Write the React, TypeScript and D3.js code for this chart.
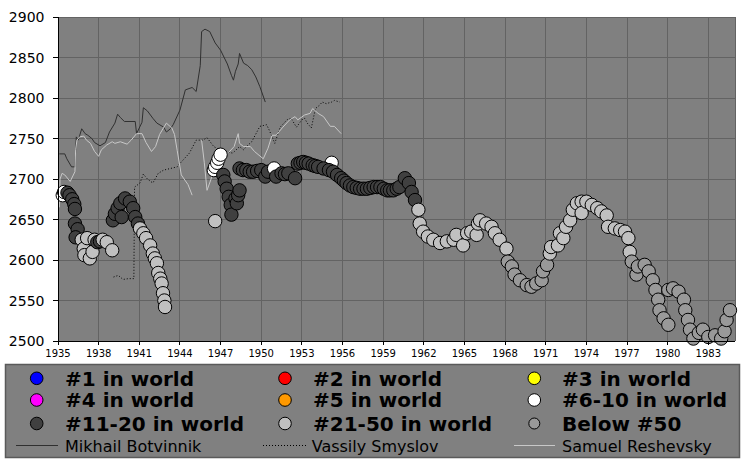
import React, { useEffect } from "react";
import * as d3 from "d3";

// ---------- DATA ----------
const xTickYears = [1935, 1938, 1941, 1944, 1947, 1950, 1953, 1956, 1959, 1962, 1965, 1968, 1971, 1974, 1977, 1980, 1983];
const yTickValues = [2500, 2550, 2600, 2650, 2700, 2750, 2800, 2850, 2900];

const rankKeys = ["1", "2", "3", "4", "5", "6-10", "11-20", "21-50", "below50"];
const rankLabels = ["#1 in world", "#2 in world", "#3 in world", "#4 in world", "#5 in world", "#6-10 in world", "#11-20 in world", "#21-50 in world", "Below #50"];
const rankColors = ["#0000ff", "#ff0000", "#ffff00", "#ff00ff", "#ff9900", "#ffffff", "#404040", "#c0c0c0", "#999999"];

const playerNames = ["Mikhail Botvinnik", "Vassily Smyslov", "Samuel Reshevsky"];
const playerColors = ["#303030", "#000000", "#c8c8c8"];
const playerDash = ["none", "1,2", "none"];

// [year, rating]
const botvinnik: [number, number][] = [
  [1935.1, 2731], [1935.5, 2731], [1935.65, 2725], [1936.0, 2715], [1936.25, 2715], [1936.35, 2752], [1936.5, 2748],
  [1936.75, 2762], [1937.0, 2756], [1937.2, 2754], [1937.5, 2750], [1937.7, 2745], [1938.1, 2741], [1938.5, 2745],
  [1938.8, 2758], [1939.2, 2769], [1939.4, 2780], [1939.6, 2776], [1939.9, 2771], [1940.7, 2771], [1940.8, 2756],
  [1941.2, 2770], [1941.3, 2788], [1941.6, 2784], [1942.0, 2775], [1942.3, 2769], [1942.8, 2764], [1943.0, 2758],
  [1943.3, 2762], [1943.5, 2767], [1944.0, 2785], [1944.4, 2810], [1944.9, 2813], [1945.2, 2808], [1945.5, 2840],
  [1945.6, 2882], [1945.85, 2885], [1946.2, 2882], [1946.6, 2868], [1947.0, 2859], [1947.5, 2842], [1947.8, 2828],
  [1947.95, 2822], [1948.1, 2833], [1948.3, 2842], [1948.4, 2855], [1948.7, 2843], [1949.0, 2840], [1949.3, 2835],
  [1949.6, 2826], [1949.9, 2814], [1950.3, 2795],
];

const smyslov: [number, number][] = [
  [1939.1, 2579], [1939.45, 2581], [1939.8, 2576], [1940.2, 2577], [1940.6, 2577], [1940.65, 2690], [1941.05, 2695],
  [1941.3, 2706], [1941.6, 2700], [1942.0, 2695], [1942.4, 2707], [1942.8, 2711], [1943.3, 2713], [1943.8, 2715],
  [1944.1, 2721], [1944.7, 2732], [1945.2, 2748], [1945.7, 2748], [1946.0, 2751], [1946.5, 2740], [1947.2, 2734],
  [1947.9, 2732], [1948.4, 2740], [1948.7, 2736], [1948.9, 2740], [1949.3, 2746], [1949.9, 2765], [1950.4, 2767],
  [1950.6, 2760], [1951.0, 2744], [1951.4, 2764], [1951.9, 2773], [1952.2, 2775], [1952.6, 2764], [1953.0, 2773],
  [1953.2, 2775], [1953.4, 2769], [1953.7, 2763], [1954.0, 2787], [1954.3, 2791], [1954.5, 2795], [1954.8, 2793],
  [1955.2, 2795], [1955.4, 2797], [1955.8, 2795],
];

// null marks a gap in activity
const reshevsky: ([number, number] | null)[] = [
  [1935.1, 2665], [1935.15, 2700], [1935.3, 2707], [1935.5, 2705], [1935.9, 2697], [1936.25, 2709], [1936.3, 2736],
  [1936.4, 2748], [1936.6, 2752], [1936.9, 2753], [1937.1, 2748], [1937.4, 2744], [1937.7, 2734], [1938.0, 2728],
  [1938.2, 2736], [1938.6, 2742], [1939.0, 2746], [1939.2, 2744], [1939.6, 2746], [1940.1, 2743], [1940.4, 2748],
  [1940.8, 2756], [1941.2, 2756], [1941.5, 2745], [1941.9, 2734], [1942.2, 2740], [1942.5, 2755], [1943.0, 2769],
  [1943.4, 2763], [1943.6, 2755], [1943.8, 2735], [1944.1, 2705], [1944.6, 2693], [1944.9, 2680],
  null,
  [1945.6, 2748], [1945.8, 2720], [1946.0, 2686], [1946.3, 2700], [1946.5, 2715], [1946.8, 2722], [1947.2, 2728],
  [1947.6, 2733], [1948.0, 2740], [1948.3, 2756], [1948.4, 2744], [1948.7, 2740], [1949.2, 2740], [1949.5, 2734],
  [1950.15, 2725], [1950.5, 2738], [1950.8, 2754], [1951.1, 2754], [1951.6, 2764], [1952.1, 2773], [1952.5, 2777],
  [1952.7, 2773], [1953.2, 2779], [1953.6, 2781], [1953.8, 2787], [1954.2, 2781], [1954.6, 2777], [1955.1, 2765],
  [1955.4, 2765], [1955.9, 2756],
];

// [year, rating, rank group]
const history: [number, number, string][] = [
  [1935.35, 2680, "6-10"], [1935.45, 2684, "6-10"],
  [1935.7, 2683, "11-20"], [1935.85, 2680, "11-20"], [1936.05, 2675, "11-20"], [1936.2, 2669, "11-20"], [1936.25, 2663, "11-20"],
  [1936.25, 2645, "11-20"], [1936.45, 2638, "11-20"], [1936.3, 2628, "11-20"],
  [1936.75, 2625, "21-50"], [1936.9, 2614, "21-50"], [1936.95, 2606, "21-50"], [1937.35, 2602, "21-50"], [1937.55, 2610, "21-50"],
  [1937.15, 2627, "21-50"], [1937.7, 2625, "21-50"],
  [1937.9, 2622, "11-20"], [1938.1, 2623, "11-20"],
  [1938.3, 2625, "21-50"], [1938.6, 2622, "21-50"], [1939.0, 2612, "21-50"],
  [1939.05, 2649, "11-20"], [1939.2, 2657, "11-20"], [1939.4, 2664, "11-20"], [1939.6, 2670, "11-20"], [1939.95, 2676, "11-20"],
  [1940.3, 2672, "11-20"], [1940.55, 2664, "11-20"], [1939.7, 2653, "11-20"], [1940.7, 2653, "11-20"], [1940.9, 2645, "11-20"],
  [1941.05, 2639, "21-50"], [1941.3, 2633, "21-50"], [1941.5, 2627, "21-50"], [1941.8, 2618, "21-50"], [1942.0, 2608, "21-50"],
  [1942.15, 2602, "21-50"], [1942.3, 2596, "21-50"], [1942.4, 2584, "21-50"], [1942.55, 2577, "21-50"], [1942.65, 2571, "21-50"],
  [1942.75, 2559, "21-50"], [1942.85, 2550, "21-50"], [1942.9, 2542, "21-50"],
  [1946.6, 2648, "21-50"],
  [1946.5, 2711, "6-10"], [1946.6, 2715, "6-10"], [1946.75, 2720, "6-10"], [1946.85, 2725, "6-10"], [1947.0, 2730, "6-10"],
  [1947.2, 2705, "11-20"], [1947.3, 2697, "11-20"], [1947.45, 2688, "11-20"], [1947.6, 2678, "11-20"], [1947.75, 2668, "11-20"],
  [1947.8, 2656, "11-20"], [1948.1, 2676, "11-20"], [1948.2, 2670, "11-20"], [1948.3, 2680, "11-20"], [1948.4, 2686, "11-20"],
  [1948.4, 2713, "11-20"], [1948.65, 2711, "11-20"], [1948.9, 2711, "11-20"], [1949.15, 2709, "11-20"], [1949.4, 2709, "11-20"],
  [1949.7, 2710, "11-20"], [1950.0, 2711, "11-20"], [1950.3, 2703, "11-20"], [1950.5, 2709, "11-20"],
  [1950.95, 2713, "6-10"],
  [1951.1, 2703, "11-20"], [1951.5, 2707, "11-20"], [1951.75, 2706, "11-20"], [1952.0, 2707, "11-20"], [1952.5, 2701, "11-20"],
  [1952.7, 2719, "11-20"], [1952.9, 2720, "11-20"], [1953.1, 2721, "11-20"], [1953.3, 2720, "11-20"], [1953.5, 2719, "11-20"],
  [1953.8, 2717, "11-20"],
  [1955.2, 2720, "6-10"],
  [1954.0, 2716, "11-20"], [1954.2, 2715, "11-20"], [1954.6, 2713, "11-20"], [1955.0, 2711, "11-20"], [1955.3, 2709, "11-20"],
  [1955.6, 2705, "11-20"], [1955.9, 2701, "11-20"], [1956.1, 2698, "11-20"], [1956.3, 2695, "11-20"], [1956.55, 2692, "11-20"],
  [1956.8, 2690, "11-20"], [1957.05, 2689, "11-20"], [1957.3, 2688, "11-20"], [1957.55, 2688, "11-20"], [1957.8, 2688, "11-20"],
  [1958.05, 2689, "11-20"], [1958.3, 2690, "11-20"], [1958.55, 2690, "11-20"], [1958.8, 2690, "11-20"], [1959.05, 2688, "11-20"],
  [1959.3, 2686, "11-20"], [1959.5, 2686, "11-20"], [1959.75, 2686, "11-20"], [1960.0, 2688, "11-20"], [1960.2, 2690, "11-20"],
  [1960.6, 2701, "11-20"], [1960.9, 2695, "11-20"], [1961.1, 2684, "11-20"], [1961.35, 2674, "11-20"],
  [1961.6, 2662, "21-50"], [1961.7, 2645, "21-50"], [1961.95, 2635, "21-50"], [1962.3, 2629, "21-50"], [1962.7, 2625, "21-50"],
  [1963.2, 2621, "21-50"], [1963.7, 2623, "21-50"], [1964.2, 2625, "21-50"], [1964.4, 2631, "21-50"], [1964.9, 2618, "21-50"],
  [1965.2, 2633, "21-50"], [1965.5, 2635, "21-50"], [1965.9, 2631, "21-50"], [1966.0, 2645, "21-50"], [1966.15, 2649, "21-50"],
  [1966.6, 2645, "21-50"], [1967.0, 2641, "21-50"], [1967.25, 2633, "21-50"], [1967.6, 2625, "21-50"], [1968.1, 2614, "21-50"],
  [1968.2, 2598, "below50"], [1968.5, 2592, "below50"], [1968.7, 2582, "below50"], [1969.1, 2575, "below50"], [1969.6, 2569, "below50"],
  [1969.95, 2567, "below50"], [1970.3, 2571, "below50"], [1970.7, 2575, "below50"], [1970.8, 2586, "below50"], [1971.1, 2594, "below50"],
  [1971.3, 2608, "21-50"], [1971.4, 2616, "21-50"], [1971.9, 2618, "21-50"], [1972.05, 2633, "21-50"], [1972.3, 2627, "21-50"],
  [1972.5, 2641, "21-50"], [1972.8, 2649, "21-50"], [1973.0, 2662, "21-50"], [1973.3, 2670, "21-50"], [1973.65, 2672, "21-50"],
  [1973.65, 2658, "21-50"], [1974.0, 2672, "21-50"], [1974.4, 2668, "21-50"], [1974.8, 2664, "21-50"], [1975.1, 2660, "21-50"],
  [1975.5, 2655, "21-50"], [1975.6, 2641, "21-50"], [1976.1, 2639, "21-50"], [1976.5, 2637, "21-50"], [1976.85, 2635, "21-50"],
  [1977.1, 2627, "21-50"], [1977.2, 2610, "21-50"],
  [1977.35, 2598, "below50"], [1977.7, 2582, "below50"], [1977.8, 2592, "below50"], [1978.3, 2594, "below50"], [1978.6, 2586, "below50"],
  [1978.9, 2575, "below50"], [1979.1, 2563, "below50"], [1979.3, 2551, "below50"], [1979.4, 2538, "below50"], [1979.7, 2528, "below50"],
  [1980.05, 2520, "below50"], [1980.05, 2563, "below50"], [1980.4, 2565, "below50"], [1980.8, 2561, "below50"], [1981.2, 2551, "below50"],
  [1981.3, 2538, "below50"], [1981.5, 2526, "below50"], [1981.65, 2514, "below50"], [1981.9, 2503, "below50"], [1982.3, 2510, "below50"],
  [1982.6, 2514, "below50"], [1983.0, 2505, "below50"], [1983.5, 2507, "below50"], [1983.95, 2503, "below50"], [1984.2, 2512, "below50"],
  [1984.35, 2526, "below50"], [1984.6, 2538, "below50"],
];

// ---------- CHART ----------
const W = 756;
const H = 464;
const plot = { left: 58, right: 735.4, top: 17, bottom: 341 };

export default function App() {
  useEffect(() => {
    document.body.style.margin = "0";
  }, []);

  const x = d3.scaleLinear().domain([1935, 1985]).range([plot.left, plot.right]);
  const y = d3.scaleLinear().domain([2500, 2900]).range([plot.bottom, plot.top]);

  const line = d3
    .line<[number, number] | null>()
    .defined((d) => d !== null)
    .x((d) => x((d as [number, number])[0]))
    .y((d) => y((d as [number, number])[1]));

  const series = [botvinnik, smyslov, reshevsky];
  const colorOf = (k: string) => rankColors[rankKeys.indexOf(k)];

  const gridColor = "#636363";
  const legendCols = [36.7, 285, 534.3];
  const legendTextX = [65, 313, 562];
  const legendRowY = [378.3, 400, 423.5];
  const lineRowY = 445;
  const lineSample = [[16, 58], [263, 307], [514, 555]];

  return (
    <svg width={W} height={H} style={{ position: "absolute", left: 0, top: 0, display: "block", background: "#fff" }}>
      {/* plot background */}
      <rect x={plot.left} y={plot.top} width={plot.right - plot.left} height={plot.bottom - plot.top} fill="#808080" />
      {/* grid */}
      <g shapeRendering="crispEdges">
        {xTickYears.map((t) => (
          <line key={"gx" + t} x1={x(t)} x2={x(t)} y1={plot.top} y2={plot.bottom} stroke={gridColor} strokeWidth={1} />
        ))}
        {yTickValues.map((t) => (
          <line key={"gy" + t} x1={plot.left} x2={plot.right} y1={y(t)} y2={y(t)} stroke={gridColor} strokeWidth={1} />
        ))}
        <line x1={plot.right} x2={plot.right} y1={plot.top} y2={plot.bottom} stroke={gridColor} />
        <line x1={plot.left} x2={plot.right} y1={plot.top} y2={plot.top} stroke={gridColor} />
      </g>

      {/* player lines */}
      {series.map((s, i) => (
        <path
          key={"ln" + i}
          d={line(s as ([number, number] | null)[]) || ""}
          fill="none"
          stroke={playerColors[i]}
          strokeWidth={1}
          strokeDasharray={playerDash[i] === "none" ? undefined : playerDash[i]}
        />
      ))}

      {/* rating history circles */}
      {history.map((d, i) => (
        <circle key={"c" + i} cx={x(d[0])} cy={y(d[1])} r={6.7} fill={colorOf(d[2])} stroke="#000" strokeWidth={1} />
      ))}

      {/* axes */}
      <g shapeRendering="crispEdges">
        <line x1={plot.left} x2={plot.left} y1={plot.top} y2={plot.bottom + 4} stroke="#000" />
        <line x1={plot.left - 5} x2={plot.right} y1={plot.bottom} y2={plot.bottom} stroke="#000" />
        {yTickValues.map((t) => (
          <line key={"ty" + t} x1={plot.left - 5} x2={plot.left} y1={y(t)} y2={y(t)} stroke="#000" />
        ))}
        {xTickYears.map((t) => (
          <line key={"tx" + t} x1={x(t)} x2={x(t)} y1={plot.bottom} y2={plot.bottom + 4} stroke="#000" />
        ))}
      </g>
      {yTickValues.map((t) => (
        <text key={"ly" + t} x={44.5} y={y(t) + 5} textAnchor="end" fontFamily="DejaVu Sans" fontSize={14} fill="#000">
          {t}
        </text>
      ))}
      {xTickYears.map((t) => (
        <text key={"lx" + t} x={x(t)} y={357} textAnchor="middle" fontFamily="DejaVu Sans" fontSize={10} fill="#000">
          {t}
        </text>
      ))}

      {/* legend */}
      <rect x={5.5} y={364.5} width={734} height={93} fill="#808080" stroke="#5a5a5a" strokeWidth={1.5} />
      {rankLabels.map((lab, i) => {
        const col = i % 3;
        const row = Math.floor(i / 3);
        return (
          <g key={"lg" + i}>
            <circle
              cx={legendCols[col]}
              cy={legendRowY[row]}
              r={rankKeys[i] === "below50" ? 5.5 : 6.3}
              fill={rankColors[i]}
              stroke="#000"
              strokeWidth={1}
            />
            <text x={legendTextX[col]} y={legendRowY[row] + 7.3} fontFamily="DejaVu Sans" fontWeight="bold" fontSize={20} fill="#000">
              {lab}
            </text>
          </g>
        );
      })}
      {playerNames.map((n, i) => (
        <g key={"pl" + i}>
          <line
            x1={lineSample[i][0]}
            x2={lineSample[i][1]}
            y1={lineRowY}
            y2={lineRowY}
            stroke={playerColors[i]}
            strokeWidth={1}
            strokeDasharray={playerDash[i] === "none" ? undefined : playerDash[i]}
            shapeRendering="crispEdges"
          />
          <text x={legendTextX[i] - (i === 1 ? 1.3 : 0)} y={lineRowY + 6.5} fontFamily="DejaVu Sans" fontSize={16} fill="#000">
            {n}
          </text>
        </g>
      ))}
    </svg>
  );
}
